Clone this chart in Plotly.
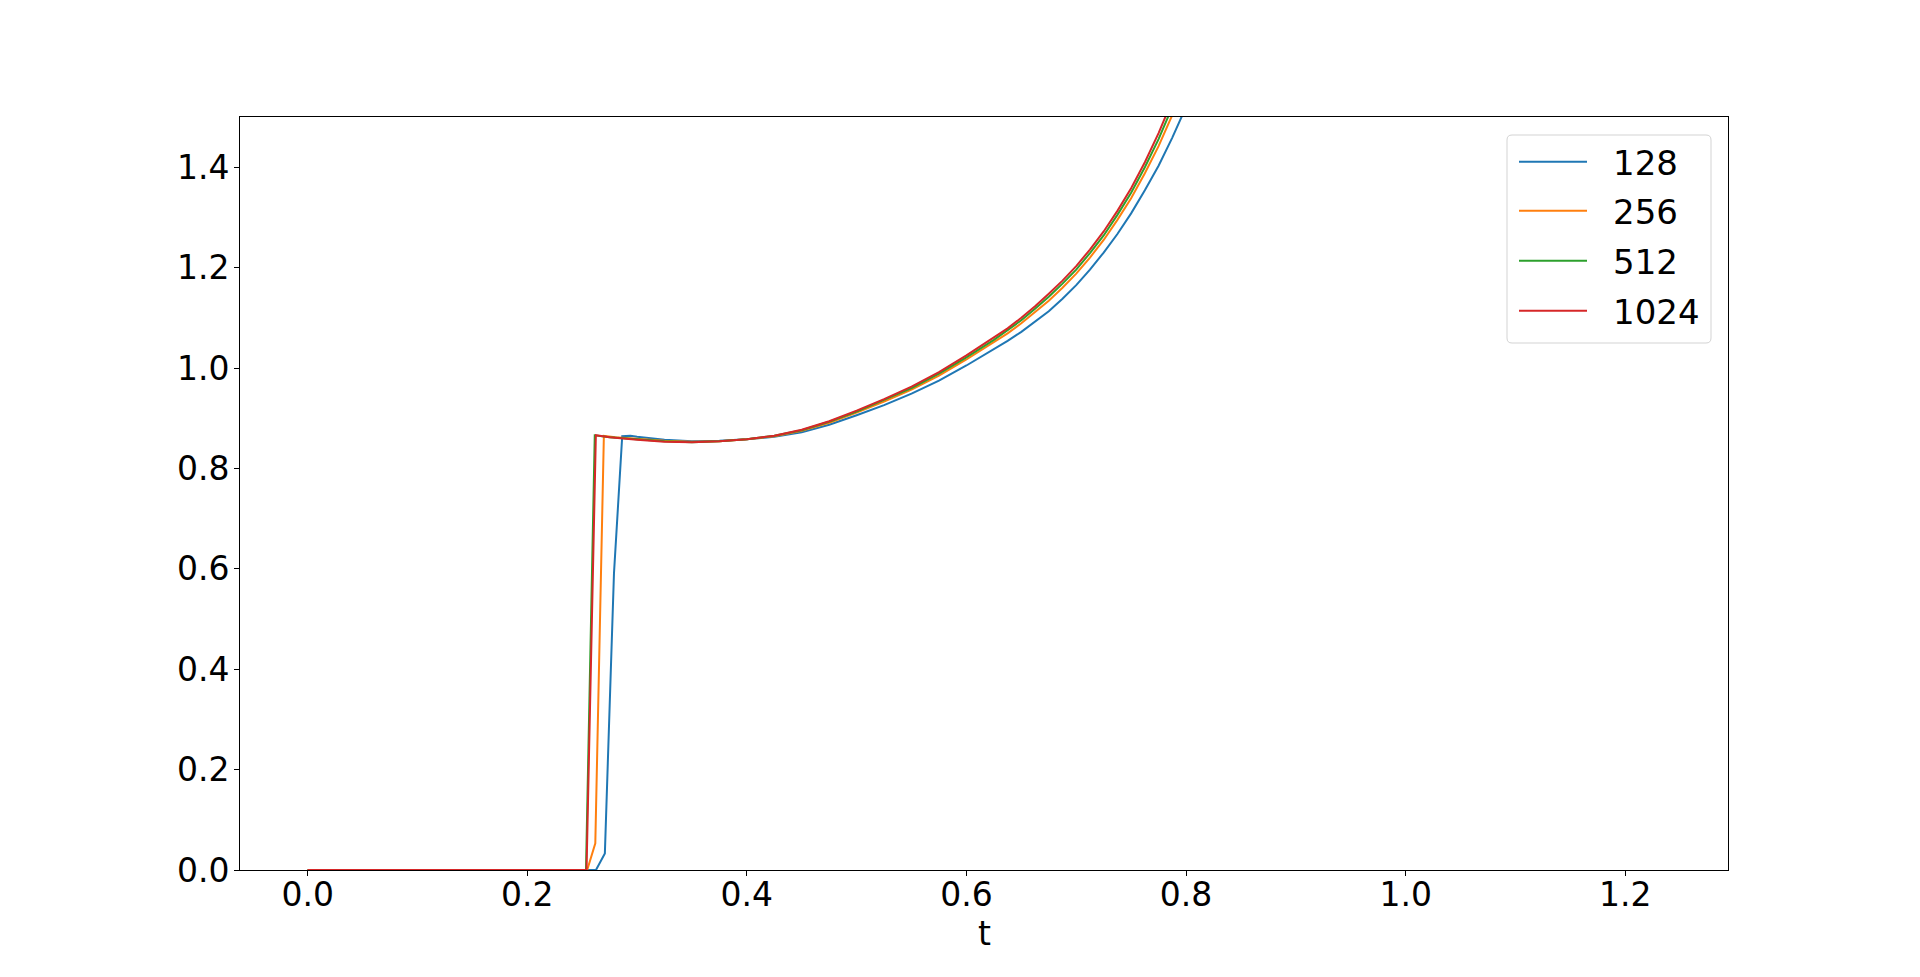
import plotly.graph_objects as go

# ---- data ----
labels = ["128", "256", "512", "1024"]
colors = ["#1f77b4", "#ff7f0e", "#2ca02c", "#d62728"]

t_smooth = [0.30, 0.325, 0.35, 0.375, 0.40, 0.425, 0.45, 0.475, 0.50, 0.525, 0.55,
            0.575, 0.60, 0.625, 0.6375, 0.65, 0.6625, 0.675, 0.6875, 0.70, 0.7125,
            0.725, 0.7375, 0.75, 0.7625, 0.775, 0.7875, 0.80, 0.8125, 0.825]

# 128
t_128_jump = [0.0, 0.2626, 0.2707, 0.279, 0.2865, 0.294]
y_128_jump = [0.0, 0.0, 0.033, 0.591, 0.864, 0.865]
y_128 = [0.863, 0.857, 0.854, 0.855, 0.858, 0.863, 0.872, 0.887, 0.906, 0.926, 0.949,
         0.975, 1.005, 1.037, 1.054, 1.072, 1.092, 1.113, 1.138, 1.165, 1.196,
         1.230, 1.267, 1.308, 1.354, 1.403, 1.459, 1.520, 1.592, 1.670]

# 256
t_256_jump = [0.0, 0.2546, 0.262, 0.2698, 0.28]
y_256_jump = [0.0, 0.0, 0.053, 0.865, 0.862]
y_256 = [0.859, 0.855, 0.853, 0.854, 0.858, 0.864, 0.875, 0.891, 0.911, 0.933, 0.957,
         0.985, 1.017, 1.051, 1.069, 1.089, 1.111, 1.134, 1.160, 1.188, 1.220,
         1.255, 1.295, 1.338, 1.388, 1.442, 1.504, 1.571, 1.650, 1.736]

# 512
t_512_jump = [0.0, 0.2535, 0.2615, 0.275]
y_512_jump = [0.0, 0.0, 0.866, 0.862]
y_512 = [0.858, 0.854, 0.852, 0.854, 0.858, 0.865, 0.876, 0.893, 0.913, 0.936, 0.960,
         0.989, 1.021, 1.056, 1.075, 1.095, 1.118, 1.142, 1.168, 1.196, 1.229,
         1.264, 1.305, 1.349, 1.400, 1.456, 1.520, 1.590, 1.670, 1.760]

# 1024
t_1024_jump = [0.0, 0.254, 0.2625, 0.275]
y_1024_jump = [0.0, 0.0, 0.866, 0.862]
y_1024 = [0.857, 0.853, 0.852, 0.854, 0.858, 0.865, 0.877, 0.894, 0.915, 0.938, 0.963,
          0.992, 1.025, 1.060, 1.079, 1.100, 1.123, 1.148, 1.174, 1.203, 1.236,
          1.272, 1.313, 1.358, 1.410, 1.468, 1.533, 1.605, 1.688, 1.780]

x_ticks = [0.0, 0.2, 0.4, 0.6, 0.8, 1.0, 1.2]
y_ticks = [0.0, 0.2, 0.4, 0.6, 0.8, 1.0, 1.2, 1.4]

series = [
    (t_128_jump, y_128_jump, y_128),
    (t_256_jump, y_256_jump, y_256),
    (t_512_jump, y_512_jump, y_512),
    (t_1024_jump, y_1024_jump, y_1024),
]

FONT = "DejaVu Sans"
fig = go.Figure()
for (tj, yj, ys), name, c in zip(series, labels, colors):
    fig.add_trace(go.Scatter(
        x=tj + t_smooth, y=yj + ys, mode="lines", name=name,
        line=dict(color=c, width=2), showlegend=False,
    ))

W, H = 1920, 977
OFF = 8  # page body margin
# desired plot box in page pixels
PL, PR, PT, PB = 240, 1728, 117, 870
L, T = PL - OFF, PT - OFF
R, B = W - PR + OFF, H - PB + OFF
PW, PH = PR - PL, PB - PT


def px(x):
    return (x - PL) / PW


def py(y):
    return (PB - y) / PH


axis_common = dict(
    showgrid=False, zeroline=False, showline=True, linecolor="black", linewidth=1,
    mirror=True, ticks="outside", ticklen=5, tickwidth=1, tickcolor="black",
    tickfont=dict(family=FONT, size=33, color="black"),
)

# ---- manual legend (matplotlib style) ----
bx0, bx1, by0, by1 = 1507, 1711, 135, 343
r = 5
path = (f"M {px(bx0 + r)} {py(by0)} L {px(bx1 - r)} {py(by0)} "
        f"Q {px(bx1)} {py(by0)} {px(bx1)} {py(by0 + r)} "
        f"L {px(bx1)} {py(by1 - r)} Q {px(bx1)} {py(by1)} {px(bx1 - r)} {py(by1)} "
        f"L {px(bx0 + r)} {py(by1)} Q {px(bx0)} {py(by1)} {px(bx0)} {py(by1 - r)} "
        f"L {px(bx0)} {py(by0 + r)} Q {px(bx0)} {py(by0)} {px(bx0 + r)} {py(by0)} Z")
shapes = [dict(type="path", path=path, xref="paper", yref="paper",
               line=dict(color="#d3d3d3", width=1), fillcolor="white", layer="above")]
annotations = []
row_y = [161.7, 210.7, 260.7, 310.7]
for name, c, yy in zip(labels, colors, row_y):
    shapes.append(dict(type="line", xref="paper", yref="paper",
                       x0=px(1519), x1=px(1587), y0=py(yy), y1=py(yy),
                       line=dict(color=c, width=2), layer="above"))
    annotations.append(dict(text=name, xref="paper", yref="paper",
                            x=px(1611), y=py(yy + 1), xanchor="left", yanchor="middle",
                            showarrow=False,
                            font=dict(family=FONT, size=34, color="black")))

annotations.append(dict(text="t", xref="paper", yref="paper", x=px((PL + PR) / 2),
                        y=py(933), xanchor="center", yanchor="middle", showarrow=False,
                        font=dict(family=FONT, size=33, color="black")))

fig.update_layout(
    width=W, height=H,
    margin=dict(l=L, r=R, t=T, b=B),
    paper_bgcolor="white", plot_bgcolor="white",
    font=dict(family=FONT, size=33, color="black"),
    xaxis=dict(range=[-0.0616, 1.2936], tickvals=x_ticks,
               ticktext=[f"{v:.1f}" for v in x_ticks],
               ticklabelstandoff=-10,
               **axis_common),
    yaxis=dict(range=[0, 1.5], tickvals=y_ticks,
               ticktext=[f"{v:.1f}" for v in y_ticks],
               ticklabelstandoff=-2,
               **axis_common),
    shapes=shapes,
    annotations=annotations,
    showlegend=False,
)
fig.write_html("out.html")
